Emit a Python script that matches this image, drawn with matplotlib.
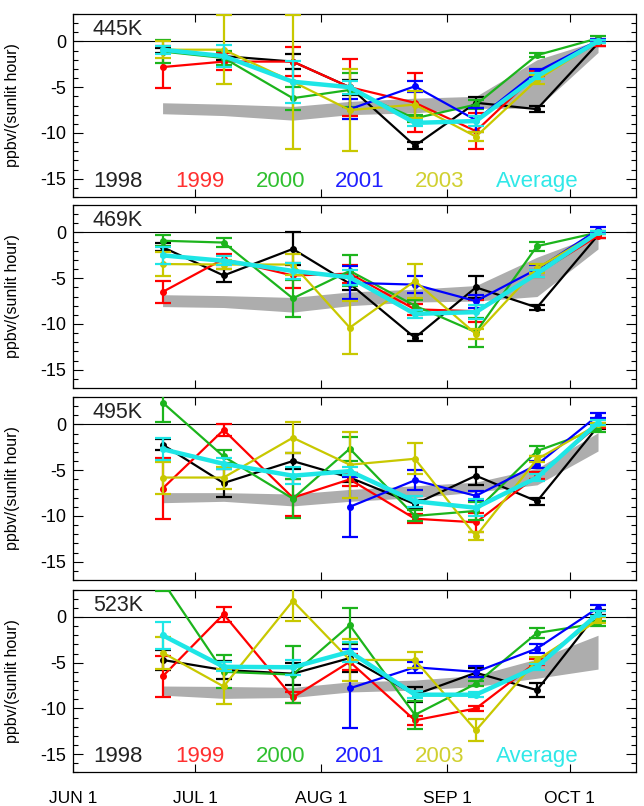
import matplotlib.pyplot as plt
import numpy as np
import pandas as pd
from matplotlib.ticker import MultipleLocator

plt.rcParams['font.family'] = ['Liberation Sans', 'DejaVu Sans']
plt.rcParams['axes.unicode_minus'] = False

# sampling dates (semi-monthly means)
dates = pd.to_datetime(["2000-06-23", "2000-07-08", "2000-07-25", "2000-08-08",
                        "2000-08-24", "2000-09-08", "2000-09-23", "2000-10-08"])
years = ["1998", "1999", "2000", "2001", "2003", "Average"]
colors = ["#000000", "#ff0000", "#1cb41c", "#0000ff", "#c8c800", "#1ee6e6"]
text_colors = ["#222222", "#ff3030", "#30c030", "#2020ff", "#d0d030", "#30e8e8"]
levels = ["445K", "469K", "495K", "523K"]
nan = np.nan

tick_dates = pd.to_datetime(["2000-06-01", "2000-07-01", "2000-08-01", "2000-09-01", "2000-10-01"])
tick_labels = ["JUN 1", "JUL 1", "AUG 1", "SEP 1", "OCT 1"]

# loss rates, one row per year (1998, 1999, 2000, 2001, 2003, average)
rate_445 = [[-1.0, -1.6, -2.2, -5.0, -11.4, -6.7, -7.4, -0.2],
            [-2.8, -2.2, -2.2, -5.0, -6.7, -9.8, -3.5, -0.2],
            [-1.1, -1.8, -6.2, -5.3, -8.4, -6.9, -1.5, 0.35],
            [nan, nan, nan, -7.4, -4.9, -8.6, -3.3, 0.1],
            [-0.9, -0.9, -4.4, -7.5, -6.9, -10.4, -4.2, 0.0],
            [-0.9, -1.6, -4.4, -5.0, -8.9, -8.7, -3.8, 0.0]]
err_445 = [[0.3, 0.4, 0.8, 0.8, 0.4, 0.6, 0.3, 0.3],
           [2.3, 0.9, 1.6, 3.1, 3.2, 2.0, 0.3, 0.3],
           [1.3, 0.8, 1.25, 1.9, 0.4, 0.5, 0.2, 0.2],
           [nan, nan, nan, 1.1, 0.6, 1.3, 0.3, 0.2],
           [0.9, 3.8, 7.3, 4.5, 1.5, 0.5, 0.5, 0.2],
           [0.45, 1.2, 2.3, 0.7, 0.3, 0.5, 0.3, 0.2]]
band_hi_445 = [-6.7, -6.85, -7.1, -6.55, -6.2, -6.0, -2.0, 0.1]
band_lo_445 = [-7.9, -8.1, -8.6, -8.0, -7.8, -7.3, -7.3, -1.2]

rate_469 = [[-1.6, -4.7, -1.8, -5.6, -11.5, -6.0, -8.2, -0.3],
            [-6.5, -2.9, -4.7, -4.5, -8.4, -8.6, -4.5, -0.35],
            [-0.9, -1.1, -7.2, -4.2, -8.0, -10.9, -1.5, 0.0],
            [nan, nan, nan, -5.5, -5.7, -7.5, -4.0, 0.3],
            [-3.45, -3.5, -3.5, -10.4, -5.3, -11.1, -3.9, 0.0],
            [-2.5, -3.1, -4.2, -4.9, -8.9, -8.7, -4.5, 0.0]]
err_469 = [[0.4, 0.7, 1.8, 0.7, 0.4, 1.2, 0.3, 0.3],
           [1.2, 0.6, 1.4, 1.0, 0.6, 1.2, 0.4, 0.3],
           [0.6, 0.5, 2.0, 1.7, 0.6, 1.6, 0.5, 0.2],
           [nan, nan, nan, 1.8, 0.95, 0.7, 0.4, 0.3],
           [1.3, 0.5, 1.1, 2.9, 1.9, 0.5, 0.5, 0.2],
           [0.95, 0.5, 0.9, 0.8, 0.4, 0.8, 0.4, 0.2]]
band_hi_469 = [-6.8, -6.9, -7.1, -6.5, -6.2, -5.8, -2.7, -0.2]
band_lo_469 = [-8.1, -8.2, -8.7, -8.0, -7.6, -7.5, -7.0, -1.8]

rate_495 = [[-2.2, -6.4, -4.0, -5.8, -8.7, -5.6, -8.4, -0.2],
            [-7.0, -0.6, -8.0, -6.0, -10.3, -10.7, -5.6, -0.1],
            [2.4, -3.5, -8.1, -2.65, -10.0, -9.45, -2.9, -0.5],
            [nan, nan, nan, -9.0, -6.1, -7.8, -4.4, 1.0],
            [-5.8, -5.8, -1.45, -4.4, -3.75, -12.2, -3.8, 0.0],
            [-2.7, -4.3, -5.6, -5.1, -8.4, -9.1, -5.8, 0.2]]
err_495 = [[0.6, 1.5, 0.9, 0.5, 0.4, 1.0, 0.4, 0.3],
           [3.3, 0.7, 2.0, 0.7, 0.5, 1.0, 0.4, 0.3],
           [2.1, 0.7, 2.1, 1.3, 0.6, 1.0, 0.5, 0.3],
           [nan, nan, nan, 3.3, 1.1, 0.5, 0.4, 0.3],
           [1.75, 1.2, 1.7, 3.6, 1.7, 0.4, 0.3, 0.2],
           [1.2, 0.6, 0.9, 0.4, 0.6, 0.9, 0.4, 0.3]]
band_hi_495 = [-7.45, -7.45, -7.6, -7.1, -6.7, -6.3, -4.8, -0.9]
band_lo_495 = [-8.55, -8.4, -8.9, -8.4, -8.0, -7.4, -6.6, -2.9]

rate_523 = [[-4.7, -5.8, -6.2, -4.5, -8.5, -6.1, -8.0, 0.5],
            [-6.5, 0.3, -8.8, -4.9, -11.3, -10.0, -4.9, -0.2],
            [3.9, -6.0, -6.3, -0.9, -10.7, -7.3, -1.75, -0.7],
            [nan, nan, nan, -7.8, -5.5, -6.0, -3.45, 1.0],
            [-3.9, -7.6, 1.75, -4.7, -4.7, -12.4, -4.7, -0.35],
            [-2.0, -5.45, -5.5, -3.8, -8.5, -8.5, -5.45, 0.35]]
err_523 = [[1.1, 1.0, 1.2, 1.5, 0.8, 0.5, 0.8, 0.3],
           [2.2, 0.8, 0.6, 0.9, 0.5, 0.3, 0.3, 0.3],
           [1.1, 1.8, 3.1, 1.9, 1.5, 0.3, 0.5, 0.3],
           [nan, nan, nan, 4.3, 0.6, 0.6, 0.5, 0.3],
           [1.75, 1.9, 2.2, 2.3, 0.9, 1.2, 0.3, 0.3],
           [1.5, 0.5, 0.8, 1.1, 0.4, 0.3, 0.3, 0.3]]
band_hi_523 = [-7.55, -7.6, -7.7, -7.1, -6.9, -6.4, -4.6, -2.0]
band_lo_523 = [-8.55, -8.9, -8.8, -8.2, -8.0, -7.6, -6.7, -5.7]

rates = [rate_445, rate_469, rate_495, rate_523]
errs = [err_445, err_469, err_495, err_523]
bands_hi = [band_hi_445, band_hi_469, band_hi_495, band_hi_523]
bands_lo = [band_lo_445, band_lo_469, band_lo_495, band_lo_523]

fig = plt.figure(figsize=(6.44, 8.06), dpi=100)
bottoms = [0.7556, 0.5186, 0.2804, 0.0416]

for i in range(4):
    ax = fig.add_axes([0.1134, bottoms[i], 0.8742, 0.227])
    ax.fill_between(dates, bands_lo[i], bands_hi[i], color="#adadad", lw=0, zorder=1)
    ax.axhline(0, color="black", lw=0.8, zorder=2)
    for k in range(6):
        lw = 3.2 if k == 5 else 1.6
        ax.errorbar(dates, rates[i][k], yerr=errs[i][k], color=colors[k],
                    marker="o", ms=4, lw=lw, elinewidth=1.6,
                    capsize=5.5, capthick=1.6, zorder=3 + k)

    ax.set_xlim(pd.Timestamp("2000-06-01"), pd.Timestamp("2000-10-17 08:00"))
    ax.set_ylim(-17, 3)
    ax.set_yticks([0, -5, -10, -15])
    ax.yaxis.set_minor_locator(MultipleLocator(1))
    ax.set_xticks(tick_dates)
    if i == 3:
        ax.set_xticklabels(tick_labels)
    else:
        ax.set_xticklabels([])
    ax.tick_params(axis="both", which="both", direction="in", top=True, right=True)
    ax.tick_params(axis="x", which="major", length=6, width=0.8, labelsize=12.5, pad=13)
    ax.tick_params(axis="y", which="major", length=7, width=0.8, labelsize=13, pad=5)
    ax.tick_params(axis="y", which="minor", length=3.5, width=0.8)
    for s in ax.spines.values():
        s.set_linewidth(0.9)

    ax.set_ylabel("ppbv/(sunlit hour)", fontsize=11.5)
    ax.yaxis.set_label_coords(-0.095, 0.5)
    ax.text(0.035, 0.913, levels[i], transform=ax.transAxes, fontsize=15.5,
            ha="left", va="center", color="#222222")

    # year legend written inside the first and last panels
    if i == 0 or i == 3:
        xs = [0.08, 0.226, 0.368, 0.51, 0.652, 0.825]
        for k in range(6):
            ax.text(xs[k], 0.085, years[k], transform=ax.transAxes, fontsize=16,
                    ha="center", va="center", color=text_colors[k])

plt.savefig("out.png", dpi=100)
